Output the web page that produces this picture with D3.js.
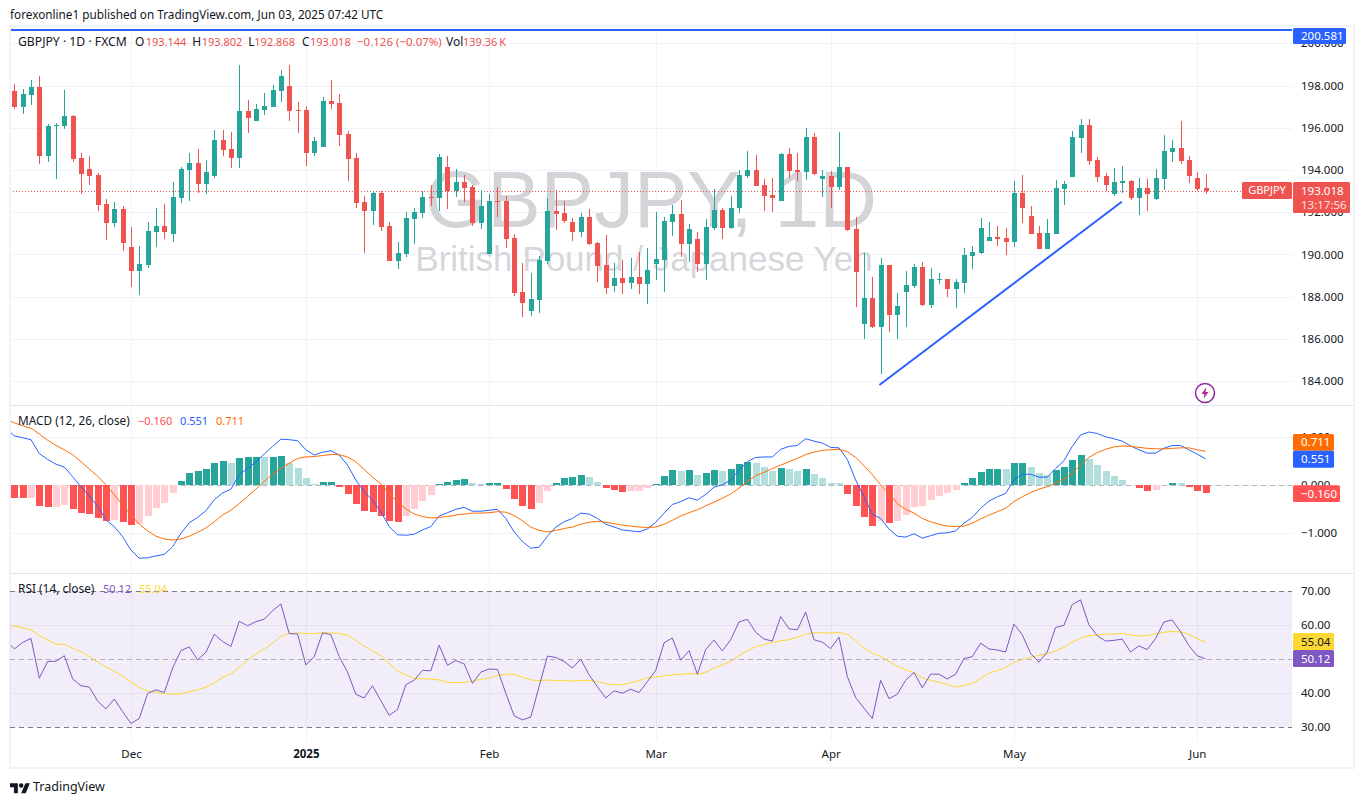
<!DOCTYPE html>
<html>
<head>
<meta charset="utf-8">
<script src="https://cdn.jsdelivr.net/npm/d3@7"></script>
<style>
html, body { margin: 0; padding: 0; background: #fff; overflow: hidden; }
text { font-family: "Noto Sans", sans-serif; }
</style>
</head>
<body>
<svg id="chart" width="1364" height="804"></svg>
<script>
// daily candles, one entry per trading day
var opens = [197.73,196.98,197.55,197.92,194.65,196.09,196.08,196.55,194.56,194.04,
193.75,192.38,191.48,192.14,190.34,189.20,189.49,191.05,191.34,190.96,
192.66,193.99,194.32,193.33,193.71,195.41,194.99,194.56,196.79,196.31,
196.83,196.98,197.73,197.97,196.83,196.83,194.80,195.08,197.26,197.17,
195.70,194.56,192.48,192.05,192.91,191.34,189.68,190.01,191.67,191.96,
192.72,192.67,194.14,193.00,193.43,193.19,191.48,190.01,192.53,192.53,
190.77,188.21,187.31,187.83,189.68,192.05,191.96,191.53,191.06,191.77,
190.54,189.49,188.50,188.88,188.64,188.92,188.59,189.54,189.73,191.53,
191.91,190.49,190.72,189.54,191.25,192.10,191.25,192.19,193.71,193.99,
193.28,192.81,192.53,194.75,193.99,193.90,195.56,193.57,193.71,193.19,
194.14,191.20,186.70,187.93,186.55,189.49,187.12,188.21,188.50,189.40,
187.60,188.80,188.83,188.35,188.64,189.92,190.06,190.63,190.82,190.77,
190.58,192.91,191.82,191.01,190.25,190.96,193.10,193.66,195.52,196.13,
194.47,193.71,192.86,193.38,193.47,192.67,193.14,192.62,193.57,194.85,
195.04,194.47,193.62,193.144];
var highs = [198.07,197.83,198.26,198.45,196.17,196.22,197.78,196.60,194.80,194.65,
193.85,192.62,192.47,192.28,191.29,190.39,191.53,192.19,192.38,193.42,
194.13,194.80,194.99,194.46,195.89,195.89,195.79,198.97,197.31,197.12,
197.64,198.02,198.73,198.97,197.21,197.02,195.55,197.45,198.26,197.60,
195.84,194.80,192.76,193.00,193.00,191.53,190.58,192.00,192.19,193.00,
193.28,194.75,194.66,194.04,193.76,193.28,193.05,192.86,193.19,192.76,
190.96,189.59,189.11,189.92,192.67,193.05,192.53,191.72,191.96,192.15,
190.58,190.91,189.59,189.73,189.83,190.11,190.30,192.00,191.77,192.34,
192.57,191.44,191.06,191.67,193.09,192.19,192.76,193.99,194.90,194.71,
193.57,193.62,194.80,195.04,194.80,195.99,195.75,193.99,193.95,195.80,
194.14,191.77,190.06,188.92,189.82,189.49,188.17,189.21,189.54,189.63,
189.35,189.11,188.83,188.83,190.30,190.39,191.72,191.53,191.34,191.25,
193.47,193.76,192.29,191.34,191.67,193.52,193.47,195.84,196.41,196.41,
194.61,193.85,194.09,194.19,193.52,193.62,193.57,194.04,195.65,195.42,
196.32,194.66,193.90,193.802];
var lows = [196.88,196.64,197.07,194.27,194.37,193.56,195.93,194.37,192.85,193.28,
192.05,190.67,191.29,190.15,188.44,188.07,189.34,190.34,190.72,190.58,
192.43,192.52,192.90,192.85,193.61,194.65,194.08,194.08,195.74,196.31,
196.60,196.98,197.21,196.31,195.74,194.18,194.65,195.08,196.88,195.13,
193.47,192.19,190.06,191.39,191.10,189.68,189.30,189.87,190.49,191.72,
192.29,192.05,192.15,192.72,192.48,191.34,191.20,190.01,191.77,190.30,
188.02,187.03,187.08,187.22,189.54,191.15,191.48,190.63,190.82,190.44,
188.69,188.12,188.21,188.12,188.36,188.12,187.64,188.78,188.21,190.87,
189.87,189.64,189.16,188.78,191.15,190.72,191.20,191.96,193.62,193.24,
192.05,192.00,192.53,193.62,193.47,193.52,193.76,192.71,192.19,193.05,
191.10,187.50,185.98,186.51,184.33,186.32,185.98,186.55,188.40,187.55,
187.45,188.59,187.98,187.45,188.17,189.30,190.01,190.63,190.39,189.97,
190.35,191.48,190.96,190.25,190.25,190.96,192.34,193.66,194.80,194.23,
193.43,193.00,192.76,192.91,192.57,191.86,192.05,192.57,193.05,194.38,
194.28,193.38,193.00,192.868];
var closes = [196.98,197.59,197.92,194.65,196.08,196.12,196.55,194.51,193.80,193.71,
192.33,191.48,192.14,190.53,189.20,189.53,191.10,191.34,191.05,192.71,
194.04,194.32,193.33,193.90,195.41,194.94,194.56,196.79,196.46,196.88,
197.02,197.78,198.45,196.79,196.80,194.80,195.36,197.26,197.12,195.65,
194.52,192.43,192.05,192.91,191.29,189.68,190.06,191.72,192.00,192.72,
192.68,194.61,193.00,193.43,193.14,191.48,192.29,192.53,192.50,190.73,
188.17,187.69,187.88,189.73,192.05,191.91,191.58,191.06,191.77,190.49,
189.45,188.40,188.88,188.64,188.92,188.59,189.26,189.78,191.58,191.91,
190.49,191.20,189.54,191.29,192.10,191.25,192.19,193.76,193.99,193.24,
192.76,192.67,194.75,193.95,193.90,195.56,193.81,193.71,193.19,194.14,
191.15,189.16,187.93,186.55,189.49,187.12,187.55,188.54,189.40,187.60,
188.83,188.83,188.35,188.69,189.97,190.11,191.25,190.82,190.73,190.58,
192.91,192.19,190.96,190.25,191.01,193.14,193.33,195.56,196.13,194.42,
193.66,193.29,193.43,193.47,192.67,193.14,192.86,193.62,194.90,195.04,
194.42,193.71,193.10,193.018];

// MACD histogram, one per candle
var macdHist = [-.26,-.26,-.26,-.43,-.45,-.45,-.41,-.49,-.58,-.60,
-.68,-.74,-.72,-.76,-.83,-.81,-.64,-.47,-.37,-.16,
.09,.26,.30,.34,.47,.51,.47,.57,.59,.59,
.59,.59,.61,.47,.36,.15,.03,.07,.07,-.03,
-.18,-.39,-.53,-.56,-.64,-.74,-.76,-.64,-.49,-.33,
-.20,.03,.07,.11,.13,.05,.03,.05,.05,-.08,
-.28,-.43,-.49,-.37,-.12,.05,.15,.17,.22,.17,
.07,-.06,-.10,-.14,-.12,-.12,-.06,.03,.19,.32,
.30,.32,.22,.26,.32,.30,.34,.44,.49,.47,
.38,.30,.36,.34,.30,.34,.24,.15,.05,.05,
-.18,-.43,-.66,-.85,-.74,-.78,-.74,-.62,-.45,-.43,
-.31,-.22,-.16,-.10,.05,.15,.28,.34,.34,.34,
.47,.47,.38,.26,.22,.32,.38,.53,.63,.55,
.42,.30,.19,.11,.01,-.06,-.12,-.10,.01,.05,
.05,-.03,-.12,-.16];
// bars drawn in the faded tone
var histFaded = [2,5,6,12,15,16,17,18,19,26,30,33,34,35,36,47,48,49,50,55,56,63,64,69,70,74,75,76,
80,82,85,89,90,91,93,94,96,97,98,99,104,106,107,108,109,110,111,112,113,119,122,123,124,
129,130,131,132,133,134,137,140];

// line series start one day before the first candle, they run off the left edge
var macdLine = [1.19,1.03,.99,.95,.66,.54,.44,.38,.18,-.03,-.22,
-.44,-.72,-.86,-1.07,-1.35,-1.52,-1.51,-1.47,-1.44,-1.28,
-1.00,-.78,-.67,-.53,-.30,-.16,-.08,.22,.35,.49,
.65,.81,.96,.95,.93,.74,.63,.69,.72,.63,
.42,.11,-.13,-.31,-.55,-.86,-1.03,-1.04,-1.02,-.93,
-.86,-.64,-.57,-.50,-.46,-.54,-.54,-.52,-.50,-.69,
-.97,-1.17,-1.31,-1.29,-1.06,-.87,-.76,-.69,-.58,-.60,
-.69,-.81,-.87,-.93,-.95,-.97,-.91,-.77,-.58,-.40,
-.34,-.26,-.31,-.19,-.04,.01,.11,.32,.49,.58,
.59,.59,.75,.81,.83,.97,.92,.88,.79,.78,
.54,.11,-.24,-.60,-.69,-.91,-1.06,-1.08,-1.01,-1.10,
-1.05,-1.00,-.99,-.95,-.79,-.67,-.48,-.33,-.24,-.17,
.11,.23,.23,.17,.17,.35,.51,.81,1.05,1.11,
1.08,1.01,.97,.92,.82,.74,.67,.67,.77,.83,
.83,.74,.65,.551];
var signalLine = [1.38,1.30,1.24,1.19,1.07,.94,.83,.74,.64,.49,.34,
.19,.01,-.20,-.41,-.62,-.81,-.95,-1.06,-1.12,-1.14,
-1.12,-1.06,-.98,-.89,-.76,-.62,-.52,-.38,-.23,-.08,
.08,.23,.35,.46,.56,.59,.60,.62,.64,.64,
.59,.49,.33,.17,.03,-.17,-.35,-.49,-.60,-.65,
-.68,-.67,-.65,-.62,-.60,-.58,-.58,-.57,-.55,-.56,
-.63,-.74,-.87,-.94,-.97,-.94,-.90,-.87,-.81,-.77,
-.75,-.77,-.80,-.83,-.85,-.87,-.88,-.87,-.81,-.73,
-.64,-.57,-.51,-.43,-.35,-.27,-.18,-.06,.08,.20,
.27,.35,.42,.49,.56,.64,.69,.73,.74,.75,
.70,.58,.41,.22,.01,-.17,-.38,-.50,-.58,-.69,
-.76,-.81,-.85,-.86,-.85,-.79,-.70,-.62,-.55,-.48,
-.34,-.24,-.15,-.08,-.03,.04,.13,.25,.42,.58,
.68,.75,.80,.82,.81,.79,.77,.76,.76,.77,
.78,.78,.74,.711];
var rsiLine = [55.5,53.0,54.9,56.1,44.4,49.3,49.4,51.0,44.2,42.2,41.8,
37.7,35.4,38.3,34.6,31.1,32.6,39.9,41.0,40.2,47.4,
52.5,53.6,49.8,52.0,57.3,55.2,53.7,61.1,59.8,61.0,
61.7,64.2,66.2,57.5,57.4,48.3,50.7,57.7,57.2,50.8,
46.2,39.7,38.6,42.2,37.8,33.5,35.2,42.5,43.8,46.7,
46.6,54.1,48.2,49.6,48.6,42.9,46.2,47.1,47.0,40.0,
33.4,32.2,33.0,42.0,50.9,50.5,49.3,47.4,50.0,45.4,
41.9,38.6,40.7,40.0,41.2,40.2,43.4,46.7,54.8,56.2,
49.7,52.5,45.6,52.8,55.6,52.4,55.7,60.9,61.7,57.9,
55.9,55.3,62.5,58.9,58.6,63.8,55.7,55.0,53.1,56.5,
44.9,38.7,35.6,32.6,43.8,38.4,39.7,43.8,46.1,41.6,
45.6,45.6,44.2,45.6,50.2,50.7,54.7,53.0,52.7,52.1,
60.3,57.2,51.7,49.1,52.1,59.3,59.9,66.0,67.4,60.1,
56.9,55.3,55.5,55.9,52.1,53.9,52.8,56.0,60.9,61.5,
58.1,54.0,51.0,50.12];
var rsiMa = [60.3,59.7,59.2,58.6,56.9,55.6,54.4,54.3,53.2,52.2,50.8,
49.1,47.7,46.5,45.0,43.3,41.7,40.6,40.3,39.9,39.7,
39.8,40.5,41.0,41.8,43.1,44.6,45.7,47.5,49.6,51.5,
53.0,54.7,56.7,57.5,57.7,57.5,57.5,57.8,57.7,57.5,
57.1,55.5,53.8,52.4,51.0,48.8,46.5,45.4,44.4,44.3,
44.1,43.9,43.2,43.1,43.2,43.6,44.1,44.4,45.2,45.6,
45.5,44.7,43.9,43.7,43.9,43.7,43.7,43.6,43.7,43.8,
43.4,42.8,42.5,42.5,43.1,43.7,44.5,44.8,45.1,45.4,
45.5,45.8,45.6,46.2,47.3,48.3,49.4,51.0,52.5,53.6,
54.3,54.9,55.4,55.7,56.4,57.4,57.7,57.8,57.6,57.9,
57.2,55.4,53.2,51.8,50.8,49.3,47.9,46.9,46.0,44.5,
43.8,43.2,42.6,41.8,42.3,42.9,44.3,45.9,46.6,47.5,
49.0,49.9,50.5,51.1,51.6,52.4,53.5,55.0,56.2,56.9,
57.1,57.3,57.4,57.5,57.1,56.8,56.9,57.4,57.9,58.1,
58.0,57.3,56.0,55.04];

var priceTicks = [200,198,196,194,192,190,188,186,184];
var macdTicks = [1,0,-1];
var rsiTicks = [70,60,50,40,30];
var dateIdx = [14,35,57,77,98,120,142];
var dateLabels = ["Dec","2025","Feb","Mar","Apr","May","Jun"];
// drawn trend line: candle index and price of both ends
var trendIdx = [103.85,132.95];
var trendPrice = [183.81,192.49];
var lastPrice = 193.018;
var topLinePrice = 200.581;

var GREEN = "#26a69a", RED = "#ef5350", GRID = "#f0f3fa", BLUE = "#2962ff", ORANGE = "#ff6d00", PURPLE = "#7e57c2", YELLOW = "#fdd835";
var left = 10, right = 1292;

var svg = d3.select("#chart");
var x = d3.scaleLinear().domain([0, 143]).range([14.33, 1205.5]);
var yPrice = d3.scaleLinear().domain([198, 184]).range([85.5, 381]);
var yMacd = d3.scaleLinear().domain([1, -1]).range([437.3, 533.3]);
var yRsi = d3.scaleLinear().domain([70, 30]).range([591, 727.3]);

function label(g, px, py, str, color, size, anchor, weight){
	return g.append("text").attr("x", px).attr("y", py).attr("dy", "0.35em")
		.attr("font-size", size || 11).attr("fill", color || "#131722")
		.attr("text-anchor", anchor || "start").attr("font-weight", weight || null).text(str);
}

function priceBox(g, y0, y1, boxW, fill, str, color){
	g.append("rect").attr("x", right + 1).attr("y", y0).attr("width", boxW).attr("height", y1 - y0).attr("rx", 1.5).attr("fill", fill);
	label(g, right + 9, (y0 + y1) / 2, str, color || "#fff", 11.5);
}

// frame
svg.append("rect").attr("x", left).attr("y", 26).attr("width", 1344).attr("height", 742).attr("fill", "#fff").attr("stroke", GRID).attr("stroke-width", 2);

// grid
var gridG = svg.append("g");
gridG.selectAll("line.v").data(dateIdx).join("line").attr("class", "v")
	.attr("x1", d => Math.round(x(d)) + 0.5).attr("x2", d => Math.round(x(d)) + 0.5).attr("y1", 27).attr("y2", 741)
	.attr("stroke", GRID);

function hGrid(scale, ticks){
	gridG.selectAll(null).data(ticks).join("line")
		.attr("x1", left).attr("x2", right)
		.attr("y1", d => Math.round(scale(d)) + 0.5).attr("y2", d => Math.round(scale(d)) + 0.5)
		.attr("stroke", GRID);
}
hGrid(yPrice, priceTicks);
hGrid(yMacd, macdTicks);

// RSI band goes over the grid
svg.append("rect").attr("x", left).attr("width", right - left)
	.attr("y", yRsi(70)).attr("height", yRsi(30) - yRsi(70)).attr("fill", PURPLE).attr("opacity", 0.1);
var rsiGrid = svg.append("g");
rsiGrid.selectAll("line").data(rsiTicks).join("line")
	.attr("x1", left).attr("x2", right)
	.attr("y1", d => Math.round(yRsi(d)) + 0.5).attr("y2", d => Math.round(yRsi(d)) + 0.5)
	.attr("stroke", d => (d == 60 || d == 40) ? "#e6e1ee" : (d == 50 ? "#b2aeba" : "#787b86"))
	.attr("stroke-dasharray", d => (d == 60 || d == 40) ? null : "5 4");

// panel separators
[405, 573].forEach(function(py){
	svg.append("line").attr("x1", left).attr("x2", 1354).attr("y1", py + 0.5).attr("y2", py + 0.5).attr("stroke", "#e0e3eb");
});

// watermark
svg.append("text").attr("x", 651).attr("y", 227).attr("text-anchor", "middle").attr("font-size", 80)
	.attr("fill", "#d3d4d8").style("font-family", "Liberation Sans").text("GBPJPY, 1D");
svg.append("text").attr("x", 644).attr("y", 271).attr("text-anchor", "middle").attr("font-size", 35)
	.attr("fill", "#d6d7db").style("font-family", "Liberation Sans").text("British Pound / Japanese Yen");

// clip for everything that lives in the plot
svg.append("clipPath").attr("id", "plotClip").append("rect").attr("x", left + 1).attr("y", 27).attr("width", right - left - 1).attr("height", 714);
var plot = svg.append("g").attr("clip-path", "url(#plotClip)");

// top horizontal line and last price line
plot.append("line").attr("x1", left).attr("x2", right).attr("y1", Math.floor(yPrice(topLinePrice)) - 1).attr("y2", Math.floor(yPrice(topLinePrice)) - 1)
	.attr("stroke", BLUE).attr("stroke-width", 2);
plot.append("line").attr("x1", left).attr("x2", 1242).attr("y1", Math.round(yPrice(lastPrice)) + 0.5).attr("y2", Math.round(yPrice(lastPrice)) + 0.5)
	.attr("stroke", RED).attr("stroke-dasharray", "1 2").attr("shape-rendering", "crispEdges");

// candles
var candles = plot.selectAll("g.candle").data(opens).join("g").attr("class", "candle").attr("shape-rendering", "crispEdges")
	.attr("fill", (d, i) => closes[i] >= d ? GREEN : RED);
candles.append("rect").attr("x", (d, i) => Math.round(x(i))).attr("width", 1)
	.attr("y", (d, i) => yPrice(highs[i])).attr("height", (d, i) => yPrice(lows[i]) - yPrice(highs[i]));
candles.append("rect").attr("x", (d, i) => Math.round(x(i)) - 2).attr("width", 5)
	.attr("y", (d, i) => yPrice(Math.max(d, closes[i])))
	.attr("height", (d, i) => Math.max(1, Math.abs(yPrice(d) - yPrice(closes[i]))));

// trend line
plot.append("path").datum(trendIdx).attr("fill", "none").attr("stroke", BLUE).attr("stroke-width", 2)
	.attr("d", d3.line().x(d => x(d)).y((d, i) => yPrice(trendPrice[i])));

// MACD zero line, histogram, lines
plot.append("line").attr("x1", left).attr("x2", right).attr("y1", Math.round(yMacd(0)) + 0.5).attr("y2", Math.round(yMacd(0)) + 0.5)
	.attr("stroke", "#b2b5be").attr("stroke-dasharray", "5 4");
plot.selectAll("rect.hist").data(macdHist).join("rect").attr("class", "hist").attr("shape-rendering", "crispEdges")
	.attr("x", (d, i) => Math.round(x(i)) - 3).attr("width", 7)
	.attr("y", d => Math.min(yMacd(d), yMacd(0)))
	.attr("height", d => Math.abs(yMacd(d) - yMacd(0)))
	.attr("fill", function(d, i){
		var faded = histFaded.indexOf(i) >= 0;
		if (d >= 0) return faded ? "#b2dfdb" : GREEN;
		return faded ? "#ffcdd2" : "#ff5252";
	});

function drawLine(values, scale, color){
	plot.append("path").datum(values).attr("fill", "none").attr("stroke", color).attr("stroke-width", 1)
		.attr("d", d3.line().x((d, k) => x(k - 1)).y(d => scale(d)));
}
drawLine(macdLine, yMacd, BLUE);
drawLine(signalLine, yMacd, "#ff6d00");
drawLine(rsiMa, yRsi, YELLOW);
drawLine(rsiLine, yRsi, PURPLE);

// axes on the right
function rightAxis(scale, ticks, fmt){
	var g = svg.append("g").attr("transform", "translate(" + (right + 9) + ",0)")
		.call(d3.axisRight(scale).tickValues(ticks).tickFormat(d3.format(fmt)).tickSize(0).tickPadding(0));
	g.select(".domain").remove();
	g.selectAll("text").attr("font-size", 11.5).attr("fill", "#131722").style("font-family", "Noto Sans");
}
rightAxis(yPrice, priceTicks, ".3f");
rightAxis(yMacd, macdTicks, ".3f");
rightAxis(yRsi, rsiTicks, ".2f");

// time axis
var xAxis = svg.append("g").attr("transform", "translate(0,750)")
	.call(d3.axisBottom(x).tickValues(dateIdx).tickFormat((d, i) => dateLabels[i]).tickSize(0).tickPadding(0));
xAxis.select(".domain").remove();
xAxis.selectAll("text").attr("font-size", 11.5).attr("fill", "#131722").attr("font-weight", (d, i) => dateLabels[i] == "2025" ? 700 : null).style("font-family", "Noto Sans");

// value tags
var tags = svg.append("g");
priceBox(tags, 28, 44, 53, BLUE, "200.581");
tags.append("rect").attr("x", 1242).attr("y", 182).attr("width", 50).attr("height", 17).attr("rx", 1.5).attr("fill", RED);
label(tags, 1267, 190.5, "GBPJPY", "#fff", 11, "middle");
tags.append("rect").attr("x", 1293).attr("y", 182).attr("width", 57).attr("height", 31).attr("rx", 1.5).attr("fill", RED);
label(tags, 1301, 190.5, "193.018", "#fff", 11.5);
label(tags, 1301, 204.5, "13:17:56", "#fde0df", 11.5);
priceBox(tags, 434, 450.7, 41, ORANGE, "0.711");
priceBox(tags, 450.7, 467.7, 41, BLUE, "0.551");
priceBox(tags, 485.3, 502, 47, "#ff5252", "\u22120.160");
priceBox(tags, 633, 650, 41, YELLOW, "55.04", "#131722");
priceBox(tags, 650, 667, 41, PURPLE, "50.12");

// header and legends
var texts = svg.append("g");
label(texts, 10, 15, "forexonline1 published on TradingView.com, Jun 03, 2025 07:42 UTC", "#131722", 11.75);
label(texts, 18, 42, "GBPJPY \u00b7 1D \u00b7 FXCM", "#131722", 12.2);
[["O", 135, "193.144", 145.7], ["H", 192.3, "193.802", 201.7], ["L", 248.3, "192.868", 254.3], ["C", 302, "193.018", 310]].forEach(function(o){
	label(texts, o[1], 42, o[0], "#131722", 12);
	label(texts, o[3], 42, o[2], RED);
});
label(texts, 357, 42, "\u22120.126 (\u22120.07%)", RED, 11.5);
label(texts, 446, 42, "Vol", "#131722", 12);
label(texts, 463, 42, "139.36\u2009K", RED);
label(texts, 18, 421, "MACD (12, 26, close)", "#131722", 11.8);
label(texts, 138, 421, "\u22120.160", "#ff5252");
label(texts, 180, 421, "0.551", BLUE);
label(texts, 216, 421, "0.711", ORANGE);
label(texts, 18, 589, "RSI (14, close)", "#131722", 11.9);
label(texts, 103, 589, "50.12", PURPLE);
label(texts, 139, 589, "55.04", YELLOW);

// lightning badge
var badge = svg.append("g").attr("transform", "translate(1205,393)");
badge.append("circle").attr("r", 9.5).attr("fill", "#fff").attr("stroke", "#8e2a9e").attr("stroke-width", 1.5);
badge.append("path").attr("d", "M1.5,-6 L-3.5,1 L-0.5,1 L-1.5,6 L3.5,-1 L0.5,-1 Z").attr("fill", "#b0278f");

// footer logo
var logo = svg.append("g").attr("transform", "translate(10,781) scale(0.56)").attr("fill", "#131722");
logo.append("path").attr("d", "M14 22H7V11H0V4h14v18zM28 22h-8l7.5-18h8L28 22z");
logo.append("circle").attr("cx", 20).attr("cy", 8).attr("r", 4);
label(svg, 33, 787, "TradingView", "#131722", 12.5);
</script>
</body>
</html>
